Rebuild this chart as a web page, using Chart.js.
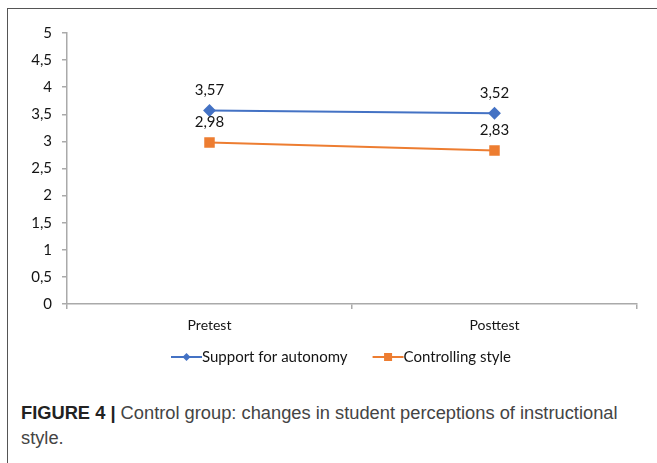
<!DOCTYPE html>
<html>
<head>
<meta charset="utf-8">
<script src="https://cdn.jsdelivr.net/npm/chart.js@4.4.1/dist/chart.umd.min.js"></script>
<style>
  html, body { margin: 0; padding: 0; background: #fff; }
  body { width: 657px; height: 463px; position: relative; overflow: hidden; }
  #frame {
    position: absolute; left: 7px; top: 8px; width: 660px; height: 470px;
    border-left: 1.5px solid #555; border-top: 1.5px solid #555;
  }
  #wrap { position: absolute; left: 8px; top: 9px; width: 649px; height: 375px; }
  #caption {
    position: absolute; left: 21px; top: 400px; width: 615px;
    font-family: "Liberation Sans", Arial, sans-serif; font-size: 18.3px;
    line-height: 25px; color: #444;
  }
  #caption b { color: #222; }
</style>
</head>
<body>
<div id="frame"></div>
<div id="wrap"><canvas id="chart"></canvas></div>
<div id="caption"><b>FIGURE 4 |</b> Control group: changes in student perceptions of instructional style.</div>
<script>
// data
const categories = ["Pretest", "Posttest"];
const autonomyValues = [3.57, 3.52];
const controllingValues = [2.98, 2.83];
const seriesNames = ["Support for autonomy", "Controlling style"];
const yTicks = [0, 0.5, 1, 1.5, 2, 2.5, 3, 3.5, 4, 4.5, 5];

const BLUE = "#4472C4";
const ORANGE = "#ED7D31";
const FONT = "Lato, 'Open Sans', sans-serif";
const TEXT = "#141414";

function comma(v) {
  return String(v).replace(".", ",");
}

// value labels above each point
const valueLabels = {
  id: "valueLabels",
  afterDatasetsDraw(chart) {
    const ctx = chart.ctx;
    ctx.save();
    ctx.font = "15px " + FONT;
    ctx.fillStyle = TEXT;
    ctx.textAlign = "center";
    ctx.textBaseline = "middle";
    chart.data.datasets.forEach((ds, i) => {
      chart.getDatasetMeta(i).data.forEach((pt, j) => {
        ctx.fillText(comma(ds.data[j]), pt.x, pt.y - 20);
      });
    });
    ctx.restore();
  }
};

// Excel-style legend: short line with the marker, text right after it
const lineLegend = {
  id: "lineLegend",
  afterDraw(chart) {
    const ctx = chart.ctx;
    const area = chart.chartArea;
    const lineLen = 31, gap = 25;
    ctx.save();
    ctx.font = "15px " + FONT;
    ctx.textBaseline = "middle";
    const items = chart.data.datasets.map(ds => ({ ds, w: ctx.measureText(ds.label).width }));
    const total = items.reduce((s, it) => s + lineLen + it.w, 0) + gap * (items.length - 1);
    let x = (area.left + area.right) / 2 - 11 - total / 2;
    const y = area.bottom + 53;
    items.forEach(({ ds, w }) => {
      ctx.strokeStyle = ds.borderColor;
      ctx.fillStyle = ds.borderColor;
      ctx.lineWidth = 2;
      ctx.beginPath(); ctx.moveTo(x, y); ctx.lineTo(x + lineLen, y); ctx.stroke();
      const cx = x + lineLen / 2;
      if (ds.pointStyle === "rectRot") {
        ctx.beginPath();
        ctx.moveTo(cx, y - 4); ctx.lineTo(cx + 4, y); ctx.lineTo(cx, y + 4); ctx.lineTo(cx - 4, y);
        ctx.closePath(); ctx.fill();
      } else {
        ctx.fillRect(cx - 4, y - 4, 8, 8);
      }
      ctx.fillStyle = TEXT;
      ctx.fillText(ds.label, x + lineLen, y);
      x += lineLen + w + gap;
    });
    ctx.restore();
  }
};

new Chart(document.getElementById("chart"), {
  type: "line",
  data: {
    labels: categories,
    datasets: [
      {
        label: seriesNames[0],
        data: autonomyValues,
        borderColor: BLUE,
        backgroundColor: BLUE,
        borderWidth: 2,
        pointStyle: "rectRot",
        pointRadius: 5
      },
      {
        label: seriesNames[1],
        data: controllingValues,
        borderColor: ORANGE,
        backgroundColor: ORANGE,
        borderWidth: 2,
        pointStyle: "rect",
        pointRadius: 6
      }
    ]
  },
  options: {
    responsive: true,
    maintainAspectRatio: false,
    animation: false,
    layout: { padding: { left: 0, right: 20, top: 24, bottom: 42 } },
    plugins: {
      tooltip: { enabled: false },
      legend: { display: false }
    },
    scales: {
      x: {
        offset: true,
        grid: { offset: true, drawOnChartArea: false, drawTicks: true, tickLength: 5, color: "#aaa", lineWidth: 1.5 },
        border: { color: "#aaa", width: 1.5 },
        ticks: { font: { family: FONT, size: 14 }, color: TEXT, padding: 8 },
        afterFit(scale) { scale.height = 38; }
      },
      y: {
        min: 0,
        max: 5,
        afterBuildTicks(scale) { scale.ticks = yTicks.map(v => ({ value: v })); },
        grid: { drawOnChartArea: false, drawTicks: true, tickLength: 5, color: "#aaa", lineWidth: 1.5 },
        border: { color: "#aaa", width: 1.5 },
        ticks: {
          font: { family: FONT, size: 15 },
          color: TEXT,
          padding: 10,
          callback: v => comma(v)
        },
        afterFit(scale) { scale.width = 59; }
      }
    }
  },
  plugins: [valueLabels, lineLegend]
});
</script>
</body>
</html>
